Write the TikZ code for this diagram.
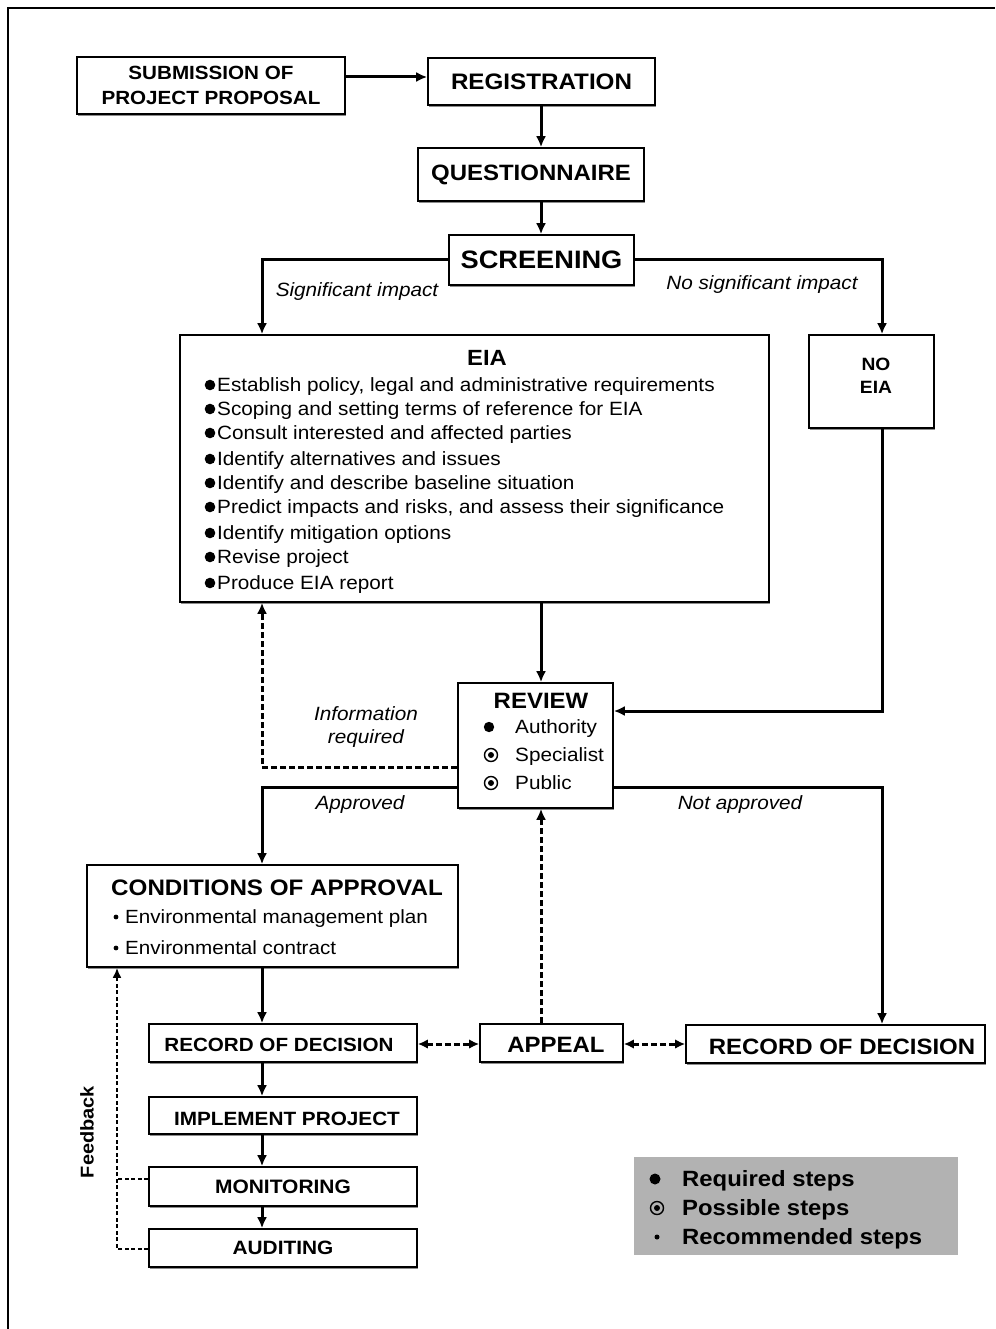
\documentclass[tikz,border=0pt]{standalone}
\usepackage{fontspec}
\setmainfont{Liberation Sans}[FakeStretch=1.08]
\usetikzlibrary{arrows.meta,shadows}
\newcommand\fsz[1]{\fontsize{#1}{#1}\selectfont}
\begin{document}
\begin{tikzpicture}[x=1pt,y=-1pt,
  box/.style={draw,line width=1.6pt,fill=white,inner sep=0pt,
    drop shadow={shadow xshift=1.3pt,shadow yshift=-1.8pt,fill=black!45,opacity=1}},
  arr/.style={line width=3pt,-{Latex[length=11pt,width=10pt]}},
  darr/.style={line width=3pt,dash pattern=on 6pt off 3pt,-{Latex[length=11pt,width=10pt]}},
  ddarr/.style={line width=3pt,dash pattern=on 6pt off 3pt,{Latex[length=10pt,width=9.5pt]}-{Latex[length=10pt,width=9.5pt]}},
  fbline/.style={line width=2.6pt,dash pattern=on 4pt off 2.5pt},
  lab/.style={font=\fsz{19.2}\itshape,inner sep=0pt},
  txt/.style={anchor=west,inner sep=0pt,text depth=0pt,text height=13.6pt},
  ring/.style={draw,line width=1.4pt},
]
\useasboundingbox (0,0) rectangle (995,1329);
\draw[line width=2pt] (8,1329) -- (8,8) -- (995,8);

% boxes
\node[box,minimum width=268pt,minimum height=57pt,align=center,font=\fsz{19.1}\bfseries] (sub) at (211,85.5) {SUBMISSION OF\\[6.5pt]PROJECT PROPOSAL};
\node[box,minimum width=227pt,minimum height=47pt,font=\fsz{22.4}\bfseries] (reg) at (541.5,81.5) {REGISTRATION};
\node[box,minimum width=226pt,minimum height=53pt,font=\fsz{22.2}\bfseries] (que) at (531,174.5) {QUESTIONNAIRE};
\node[box,minimum width=185pt,minimum height=50pt,font=\fsz{25.2}\bfseries] (scr) at (541.5,260) {SCREENING};
\node[box,minimum width=589pt,minimum height=267pt] (eia) at (474.5,468.5) {};
\node[box,minimum width=125pt,minimum height=93pt] (noeia) at (871.5,381.5) {};
\node[box,minimum width=155pt,minimum height=125pt] (rev) at (535.5,745.5) {};
\node[box,minimum width=371pt,minimum height=102pt] (cond) at (272.5,916) {};
\node[box,minimum width=268pt,minimum height=38pt] (rod1) at (283,1043) {};
\node[box,minimum width=143pt,minimum height=38pt] (app) at (551.5,1043) {};
\node[box,minimum width=299pt,minimum height=38pt] (rod2) at (835.5,1044) {};
\node[box,minimum width=268pt,minimum height=37pt] (imp) at (283,1115.5) {};
\node[box,minimum width=268pt,minimum height=39pt,font=\fsz{19.4}\bfseries] (mon) at (283,1186.5) {MONITORING};
\node[box,minimum width=268pt,minimum height=38pt,font=\fsz{19.3}\bfseries] (aud) at (283,1248) {AUDITING};
\node[fill=black!30,minimum width=324pt,minimum height=98pt,inner sep=0pt] (leg) at (796,1206) {};

% texts in boxes
\node[font=\fsz{22}\bfseries,inner sep=0pt] (eiat) at (487,358) {EIA};
\foreach \y/\t [count=\i] in {385/{Establish policy, legal and administrative requirements},
  409/{Scoping and setting terms of reference for EIA},
  433/{Consult interested and affected parties},
  459/{Identify alternatives and issues},
  483/{Identify and describe baseline situation},
  507/{Predict impacts and risks, and assess their significance},
  533/{Identify mitigation options},
  557/{Revise project},
  583/{Produce EIA report}}{
  \fill (210,\y) circle (5.3pt);
  \node[txt,font=\fsz{19.2}] (eia\i) at (217,\y) {\t};
}
\node[font=\fsz{17.8}\bfseries,align=center,inner sep=0pt] (noeiat) at (876,376) {NO\\[5pt]EIA};

\node[font=\fsz{22.2}\bfseries,inner sep=0pt] (revt) at (541,701) {REVIEW};
\fill (489,727) circle (5.2pt);
\draw[ring] (491,755) circle (6.5pt); \fill (491,755) circle (3pt);
\draw[ring] (491,783) circle (6.5pt); \fill (491,783) circle (3pt);
\node[txt,font=\fsz{19.2}] (r1) at (515,727) {Authority};
\node[txt,font=\fsz{19.2}] (r2) at (515,755) {Specialist};
\node[txt,font=\fsz{19.2}] (r3) at (515,783) {Public};

\node[font=\fsz{22.4}\bfseries,inner sep=0pt] (condt) at (277,888) {CONDITIONS OF APPROVAL};
\fill (116,917) circle (2.4pt);
\fill (116,948) circle (2.4pt);
\node[txt,font=\fsz{19.1}] (c1) at (125,917) {Environmental management plan};
\node[txt,font=\fsz{19.1}] (c2) at (125,948) {Environmental contract};

\node[font=\fsz{19.1}\bfseries,inner sep=0pt] (rod1t) at (279,1045) {RECORD OF DECISION};
\node[font=\fsz{22.2}\bfseries,inner sep=0pt] (appt) at (556,1045) {APPEAL};
\node[font=\fsz{22.2}\bfseries,inner sep=0pt] (rod2t) at (842,1047) {RECORD OF DECISION};
\node[font=\fsz{19.2}\bfseries,inner sep=0pt] (impt) at (287,1119) {IMPLEMENT PROJECT};

% legend
\fill (655,1179) circle (5.5pt);
\draw[ring] (657,1208) circle (6.5pt); \fill (657,1208) circle (3pt);
\fill (657,1237) circle (2.5pt);
\node[txt,font=\fsz{22.1}\bfseries,text height=15.8pt] (g1) at (682,1179) {Required steps};
\node[txt,font=\fsz{22.1}\bfseries,text height=15.8pt] (g2) at (682,1208) {Possible steps};
\node[txt,font=\fsz{22.1}\bfseries,text height=15.8pt] (g3) at (682,1237) {Recommended steps};

% connectors
\draw[arr] (sub.east |- 0,77) -- (reg.west |- 0,77);
\draw[arr] (reg.south -| 541,0) -- (que.north -| 541,0);
\draw[arr] (que.south -| 541,0) -- (scr.north -| 541,0);
\draw[arr] (scr.west) -| (eia.north -| 262,0);
\draw[arr] (scr.east) -| (noeia.north -| 882,0);
\draw[arr] (eia.south -| 541,0) -- (rev.north -| 541,0);
\draw[arr] (noeia.south -| 882,0) |- (rev.east |- 0,711);
\draw[darr] (rev.west |- 0,767) -| (eia.south -| 262,0);
\draw[arr] (rev.west |- 0,787) -| (cond.north -| 262,0);
\draw[arr] (rev.east |- 0,787) -| (rod2.north -| 882,0);
\draw[arr] (cond.south -| 262,0) -- (rod1.north -| 262,0);
\draw[ddarr] (rod1.east |- 0,1044) -- (app.west |- 0,1044);
\draw[ddarr] (app.east |- 0,1044) -- (rod2.west |- 0,1044);
\draw[darr] (app.north -| 541,0) -- (rev.south -| 541,0);
\draw[arr] (rod1.south -| 262,0) -- (imp.north -| 262,0);
\draw[arr] (imp.south -| 262,0) -- (mon.north -| 262,0);
\draw[arr] (mon.south -| 262,0) -- (aud.north -| 262,0);
\coordinate (fb) at (117,1179);
\draw[fbline,-{Latex[length=10pt,width=9pt]}] (aud.west |- 0,1249) -| (cond.south -| 117,0);
\draw[fbline] (mon.west |- fb) -- (fb);

% labels
\node[lab] (l1) at (357,292) {Significant impact};
\node[lab] (l2) at (762,285) {No significant impact};
\node[lab,align=center] (l3) at (366,727) {Information\\[4pt]required};
\node[lab] (l4) at (360,805) {Approved};
\node[lab] (l5) at (740,805) {Not approved};
\node[font=\fsz{18.5}\bfseries,rotate=90,inner sep=0pt] (fbk) at (87,1132) {Feedback};
\end{tikzpicture}
\end{document}
